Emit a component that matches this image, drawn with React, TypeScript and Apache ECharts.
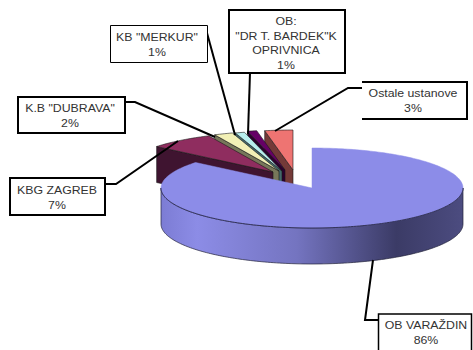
import React, { useEffect, useRef } from "react";
import * as echarts from "echarts";

// Drawn back to front; the shares run anticlockwise from the top of the ellipse.
const sliceNames = ["Ostale ustanove", "OB Koprivnica", 'KB "MERKUR"', 'K.B "DUBRAVA"', "KBG ZAGREB", "OB VARAŽDIN"];
const sliceValues = [3, 1, 1, 2, 7, 86];
const labelLines = [
  ["Ostale ustanove"],
  ["OB:", '"DR T. BARDEK"K', "OPRIVNICA"],
  ['KB "MERKUR"'],
  ['K.B "DUBRAVA"'],
  ["KBG ZAGREB"],
  ["OB VARAŽDIN"],
];
const topColors = ["#ee7472", "#660066", "#b8eeee", "#f2f0b6", "#8f2d5f", "#8c8ce8"];
const sideColors = ["#743a38", "#2c002c", "#43696b", "#77775a", "#3f1430", "#5c5ca0"];

// Layout only
const RX = 151, RY = 40, DEPTH = 36;
const apexes = [[293, 170], [285, 170], [282, 171], [279, 171], [273, 172], [312, 188]];
const boxes = [
  { x: 362, y: 82, w: 105, h: 37, lw: 2, cx: 413, ty: 93, line: [[362, 88], [348, 88], [275, 131]], open: true },
  { x: 229, y: 10, w: 116, h: 63, lw: 2, cx: 286, ty: 21, line: [[250, 73], [248, 134]] },
  { x: 110.5, y: 25.5, w: 97, h: 37, lw: 1, cx: 157, ty: 37, line: [[207, 33], [235, 135]] },
  { x: 18, y: 97, w: 107, h: 36, lw: 2, cx: 70, ty: 108, line: [[125, 102], [135, 102], [215, 137]] },
  { x: 10, y: 178, w: 95, h: 37, lw: 2, cx: 57, ty: 190, line: [[105, 184], [116, 184], [178, 141]] },
  { x: 378.5, y: 314, w: 93, h: 50, lw: 1.5, cx: 426, ty: 325, line: [[378, 320], [365, 320], [373, 260]] },
];

const total = sliceValues.reduce((a, b) => a + b, 0);
const starts: number[] = [];
sliceValues.reduce((acc, v, i) => { starts[i] = acc; return acc + v; }, 0);

// t is the anticlockwise sweep from the top of the ellipse, in radians.
const rimPoint = (apex: number[], t: number) => [
  apex[0] - RX * Math.sin(t),
  apex[1] - RY * Math.cos(t),
];
const arcPoints = (apex: number[], a: number, b: number) => {
  const n = Math.max(2, Math.ceil(Math.abs(b - a) / 0.02));
  const pts: number[][] = [];
  for (let i = 0; i <= n; i++) pts.push(rimPoint(apex, a + ((b - a) * i) / n));
  return pts;
};

const sideGradient = new echarts.graphic.LinearGradient(0, 0, 1, 0, [
  { offset: 0, color: "#7c7cd4" },
  { offset: 0.12, color: "#8c8ce6" },
  { offset: 0.45, color: "#7474c0" },
  { offset: 0.78, color: "#3b3b66" },
  { offset: 1, color: "#4c4c80" },
]);

const renderItem = (params: any, api: any) => {
  const i = params.dataIndex;
  const apex = apexes[i];
  const a = (starts[i] / total) * Math.PI * 2;
  const b = ((starts[i] + api.value(0)) / total) * Math.PI * 2;
  const rim = arcPoints(apex, a, b);
  const children: any[] = [];
  if (i < sliceValues.length - 1) {
    const end = rim[rim.length - 1];
    children.push({
      type: "polygon",
      shape: { points: [end, apex, [apex[0], apex[1] + DEPTH], [end[0], end[1] + DEPTH]] },
      style: { fill: sideColors[i], stroke: "#1a1a1a", lineWidth: 0.6 },
    });
    children.push({
      type: "polygon",
      shape: { points: [apex, ...rim] },
      style: { fill: topColors[i], stroke: "#1a1a1a", lineWidth: 0.6 },
    });
  } else {
    // The wall of the large slice shows only along the near half of the rim.
    const near = arcPoints(apex, Math.PI / 2, (Math.PI * 3) / 2);
    const lower = near.map((p) => [p[0], p[1] + DEPTH]).reverse();
    children.push({
      type: "polygon",
      shape: { points: [...near, ...lower] },
      style: { fill: sideGradient, stroke: "#22223a", lineWidth: 0.7 },
    });
    children.push({
      type: "polygon",
      shape: { points: [apex, ...rim] },
      style: { fill: topColors[i], stroke: topColors[i], lineWidth: 0.5 },
    });
    children.push({
      type: "polyline",
      shape: { points: near },
      style: { fill: "none", stroke: "#20203c", lineWidth: 0.8 },
    });
  }
  return { type: "group", children };
};

const buildLabels = () => {
  const els: any[] = [];
  boxes.forEach((box, i) => {
    els.push({
      type: "polyline",
      z: 10,
      shape: { points: box.line },
      style: { fill: "none", stroke: "#000", lineWidth: 2 },
    });
    els.push({
      type: "rect",
      z: 11,
      shape: { x: box.x, y: box.y, width: box.w, height: box.h },
      style: { fill: "#fff", stroke: box.open ? "none" : "#000", lineWidth: box.lw },
    });
    if (box.open) {
      els.push({
        type: "polyline",
        z: 12,
        shape: {
          points: [[box.x, box.y], [box.x + box.w, box.y], [box.x + box.w, box.y + box.h], [box.x, box.y + box.h]],
        },
        style: { fill: "none", stroke: "#000", lineWidth: box.lw },
      });
    }
    [...labelLines[i], `${sliceValues[i]}%`].forEach((txt, k) => {
      els.push({
        type: "text",
        z: 13,
        x: box.cx,
        y: box.ty + k * 14.5,
        scaleX: 1.12,
        style: {
          text: txt,
          fill: "#333",
          font: '11px "Liberation Sans"',
          align: "center",
          verticalAlign: "middle",
        },
      });
    });
  });
  return els;
};

export default function App() {
  const ref = useRef<HTMLDivElement>(null);
  useEffect(() => {
    document.body.style.margin = "0";
    const chart = echarts.init(ref.current!, null, { renderer: "svg" });
    chart.setOption({
      animation: false,
      backgroundColor: "#fff",
      series: [
        {
          type: "custom",
          coordinateSystem: "none",
          renderItem,
          clip: false,
          silent: true,
          data: sliceValues.map((v, i) => ({ name: sliceNames[i], value: [v] })),
        },
      ],
      graphic: { elements: buildLabels() },
    });
    return () => chart.dispose();
  }, []);
  return <div ref={ref} style={{ width: 473, height: 350 }} />;
}
